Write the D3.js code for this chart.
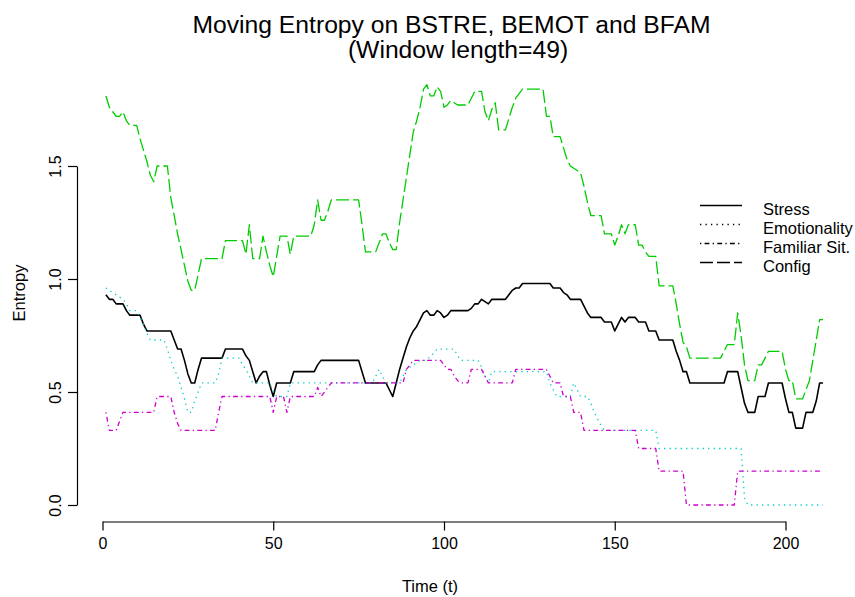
<!DOCTYPE html>
<html>
<head>
<meta charset="utf-8">
<script src="https://cdn.jsdelivr.net/npm/d3@7"></script>
<style>
  body { margin: 0; background: #fff; }
  svg text { font-family: "Liberation Sans", Arial, sans-serif; fill: #000; }
</style>
</head>
<body>
<div id="chart"></div>
<script>
const WIDTH = 855, HEIGHT = 597;

// time index 1..211
const time = d3.range(1, 212);

const stress = [
  0.93, 0.91, 0.91, 0.89, 0.89, 0.89, 0.86, 0.84, 0.84, 0.84,
  0.84, 0.80, 0.77, 0.77, 0.77, 0.77, 0.77, 0.77, 0.77, 0.77,
  0.73, 0.69, 0.69, 0.64, 0.58, 0.54, 0.54, 0.60, 0.65, 0.65,
  0.65, 0.65, 0.65, 0.65, 0.65, 0.69, 0.69, 0.69, 0.69, 0.69,
  0.69, 0.66, 0.64, 0.59, 0.54, 0.57, 0.59, 0.59, 0.53, 0.48,
  0.54, 0.54, 0.54, 0.54, 0.54, 0.59, 0.59, 0.59, 0.59, 0.59,
  0.59, 0.59, 0.62, 0.64, 0.64, 0.64, 0.64, 0.64, 0.64, 0.64,
  0.64, 0.64, 0.64, 0.64, 0.64, 0.59, 0.54, 0.54, 0.54, 0.54,
  0.54, 0.54, 0.54, 0.51, 0.48, 0.54, 0.60, 0.65, 0.70, 0.74,
  0.77, 0.79, 0.82, 0.85, 0.86, 0.84, 0.84, 0.86, 0.85, 0.83,
  0.84, 0.86, 0.86, 0.86, 0.86, 0.86, 0.86, 0.87, 0.89, 0.89,
  0.91, 0.90, 0.89, 0.91, 0.91, 0.91, 0.91, 0.91, 0.93, 0.95,
  0.96, 0.96, 0.98, 0.98, 0.98, 0.98, 0.98, 0.98, 0.98, 0.98,
  0.98, 0.96, 0.96, 0.96, 0.94, 0.93, 0.91, 0.91, 0.91, 0.91,
  0.88, 0.85, 0.83, 0.83, 0.83, 0.83, 0.81, 0.81, 0.81, 0.77,
  0.80, 0.83, 0.81, 0.83, 0.83, 0.83, 0.81, 0.81, 0.81, 0.77,
  0.77, 0.77, 0.73, 0.73, 0.73, 0.73, 0.73, 0.68, 0.64, 0.59,
  0.59, 0.54, 0.54, 0.54, 0.54, 0.54, 0.54, 0.54, 0.54, 0.54,
  0.54, 0.54, 0.59, 0.59, 0.59, 0.59, 0.52, 0.45, 0.41, 0.41,
  0.41, 0.48, 0.48, 0.48, 0.54, 0.54, 0.54, 0.54, 0.54, 0.47,
  0.41, 0.41, 0.34, 0.34, 0.34, 0.41, 0.41, 0.41, 0.46, 0.54, 0.54
];

const emotionality = [
  0.96, 0.95, 0.94, 0.93, 0.92, 0.91, 0.89, 0.86, 0.86, 0.86,
  0.83, 0.80, 0.76, 0.73, 0.73, 0.73, 0.73, 0.73, 0.69, 0.64,
  0.60, 0.57, 0.52, 0.47, 0.41, 0.41, 0.46, 0.50, 0.54, 0.54,
  0.54, 0.54, 0.54, 0.58, 0.65, 0.65, 0.65, 0.65, 0.65, 0.65,
  0.62, 0.60, 0.57, 0.54, 0.54, 0.54, 0.54, 0.54, 0.54, 0.50,
  0.48, 0.48, 0.48, 0.48, 0.54, 0.54, 0.54, 0.54, 0.54, 0.54,
  0.54, 0.54, 0.54, 0.54, 0.54, 0.54, 0.54, 0.54, 0.54, 0.54,
  0.54, 0.54, 0.54, 0.54, 0.54, 0.54, 0.54, 0.54, 0.54, 0.57,
  0.60, 0.57, 0.54, 0.54, 0.54, 0.54, 0.54, 0.57, 0.60, 0.61,
  0.62, 0.63, 0.64, 0.64, 0.64, 0.66, 0.67, 0.69, 0.69, 0.69,
  0.69, 0.69, 0.69, 0.66, 0.64, 0.64, 0.64, 0.64, 0.64, 0.64,
  0.61, 0.57, 0.54, 0.59, 0.59, 0.59, 0.59, 0.59, 0.59, 0.59,
  0.59, 0.59, 0.59, 0.59, 0.59, 0.59, 0.59, 0.59, 0.59, 0.59,
  0.54, 0.51, 0.48, 0.48, 0.48, 0.48, 0.48, 0.54, 0.51, 0.48,
  0.48, 0.48, 0.45, 0.41, 0.38, 0.35, 0.33, 0.33, 0.33, 0.33,
  0.33, 0.33, 0.33, 0.33, 0.33, 0.33, 0.33, 0.33, 0.33, 0.33,
  0.33, 0.33, 0.25, 0.25, 0.25, 0.25, 0.25, 0.25, 0.25, 0.25,
  0.25, 0.25, 0.25, 0.25, 0.25, 0.25, 0.25, 0.25, 0.25, 0.25,
  0.25, 0.25, 0.25, 0.25, 0.25, 0.25, 0.25, 0.03, 0.00, 0.00,
  0.00, 0.00, 0.00, 0.00, 0.00, 0.00, 0.00, 0.00, 0.00, 0.00,
  0.00, 0.00, 0.00, 0.00, 0.00, 0.00, 0.00, 0.00, 0.00, 0.00, 0.00
];

const familiar = [
  0.41, 0.33, 0.33, 0.33, 0.37, 0.41, 0.41, 0.41, 0.41, 0.41,
  0.41, 0.41, 0.41, 0.41, 0.41, 0.48, 0.48, 0.48, 0.48, 0.48,
  0.41, 0.36, 0.33, 0.33, 0.33, 0.33, 0.33, 0.33, 0.33, 0.33,
  0.33, 0.33, 0.33, 0.41, 0.48, 0.48, 0.48, 0.48, 0.48, 0.48,
  0.48, 0.48, 0.48, 0.48, 0.48, 0.48, 0.48, 0.48, 0.48, 0.41,
  0.48, 0.48, 0.48, 0.41, 0.48, 0.48, 0.48, 0.48, 0.48, 0.48,
  0.48, 0.48, 0.52, 0.48, 0.50, 0.52, 0.54, 0.54, 0.54, 0.54,
  0.54, 0.54, 0.54, 0.54, 0.54, 0.54, 0.54, 0.54, 0.54, 0.54,
  0.54, 0.54, 0.54, 0.54, 0.54, 0.54, 0.54, 0.54, 0.60, 0.62,
  0.64, 0.64, 0.64, 0.64, 0.64, 0.64, 0.64, 0.64, 0.64, 0.62,
  0.60, 0.60, 0.57, 0.55, 0.54, 0.54, 0.54, 0.60, 0.60, 0.60,
  0.60, 0.57, 0.54, 0.54, 0.54, 0.54, 0.54, 0.54, 0.54, 0.54,
  0.60, 0.60, 0.60, 0.60, 0.60, 0.60, 0.60, 0.60, 0.60, 0.60,
  0.57, 0.54, 0.54, 0.54, 0.48, 0.48, 0.48, 0.41, 0.41, 0.41,
  0.33, 0.33, 0.33, 0.33, 0.33, 0.33, 0.33, 0.33, 0.33, 0.33,
  0.33, 0.33, 0.33, 0.33, 0.33, 0.33, 0.25, 0.25, 0.25, 0.25,
  0.25, 0.25, 0.15, 0.15, 0.15, 0.15, 0.15, 0.15, 0.15, 0.15,
  0.00, 0.00, 0.00, 0.00, 0.00, 0.00, 0.00, 0.00, 0.00, 0.00,
  0.00, 0.00, 0.00, 0.00, 0.00, 0.15, 0.15, 0.15, 0.15, 0.15,
  0.15, 0.15, 0.15, 0.15, 0.15, 0.15, 0.15, 0.15, 0.15, 0.15,
  0.15, 0.15, 0.15, 0.15, 0.15, 0.15, 0.15, 0.15, 0.15, 0.15, 0.15
];

const config = [
  1.81, 1.76, 1.74, 1.72, 1.72, 1.74, 1.70, 1.68, 1.68, 1.68,
  1.62, 1.57, 1.52, 1.46, 1.43, 1.50, 1.50, 1.50, 1.50, 1.36,
  1.28, 1.20, 1.13, 1.06, 0.99, 0.95, 0.95, 1.02, 1.09, 1.09,
  1.09, 1.09, 1.09, 1.09, 1.09, 1.17, 1.17, 1.17, 1.17, 1.17,
  1.17, 1.11, 1.24, 1.09, 1.09, 1.09, 1.19, 1.12, 1.06, 1.01,
  1.10, 1.19, 1.19, 1.19, 1.11, 1.19, 1.19, 1.19, 1.19, 1.19,
  1.19, 1.24, 1.35, 1.26, 1.26, 1.30, 1.35, 1.35, 1.35, 1.35,
  1.35, 1.35, 1.35, 1.35, 1.35, 1.24, 1.12, 1.12, 1.12, 1.12,
  1.16, 1.20, 1.20, 1.16, 1.13, 1.13, 1.25, 1.35, 1.45, 1.55,
  1.65, 1.70, 1.76, 1.84, 1.86, 1.81, 1.81, 1.85, 1.83, 1.76,
  1.77, 1.79, 1.78, 1.77, 1.77, 1.77, 1.77, 1.80, 1.83, 1.83,
  1.83, 1.74, 1.70, 1.75, 1.78, 1.66, 1.66, 1.66, 1.71, 1.76,
  1.80, 1.82, 1.84, 1.84, 1.84, 1.84, 1.84, 1.84, 1.84, 1.72,
  1.72, 1.63, 1.63, 1.63, 1.58, 1.53, 1.50, 1.49, 1.48, 1.47,
  1.41, 1.34, 1.28, 1.28, 1.28, 1.28, 1.20, 1.20, 1.20, 1.15,
  1.19, 1.24, 1.20, 1.24, 1.24, 1.24, 1.15, 1.15, 1.12, 1.10,
  1.10, 1.10, 0.97, 0.97, 0.97, 0.97, 0.97, 0.89, 0.80, 0.72,
  0.70, 0.65, 0.65, 0.65, 0.65, 0.65, 0.65, 0.65, 0.65, 0.65,
  0.65, 0.68, 0.71, 0.71, 0.71, 0.85, 0.75, 0.62, 0.55, 0.55,
  0.55, 0.62, 0.62, 0.65, 0.68, 0.68, 0.68, 0.68, 0.68, 0.60,
  0.55, 0.55, 0.47, 0.47, 0.47, 0.51, 0.55, 0.64, 0.73, 0.82, 0.82
];

const seriesNames = ["Stress", "Emotionality", "Familiar Sit.", "Config"];
const xTicks = [0, 50, 100, 150, 200];
const yTicks = [0, 0.5, 1.0, 1.5];

const series = [
  { name: seriesNames[0], values: stress,       color: "#000000", dash: null,                 width: 1.6 },
  { name: seriesNames[1], values: emotionality, color: "#00CDCD", dash: "1.3,4.2",            width: 1.3 },
  { name: seriesNames[2], values: familiar,     color: "#CD00CD", dash: "1.3,3.3,4.8,3.3",    width: 1.3 },
  { name: seriesNames[3], values: config,       color: "#00CD00", dash: "13,4",               width: 1.3 }
];

const svg = d3.select("#chart")
  .append("svg")
  .attr("width", WIDTH)
  .attr("height", HEIGHT);

const x = d3.scaleLinear().domain([0, 200]).range([102.5, 785.5]);
const y = d3.scaleLinear().domain([0, 1.5]).range([505, 166]);

// Lines
const line = d3.line()
  .x((d, i) => x(time[i]))
  .y(d => y(d));

svg.selectAll("path.series")
  .data(series)
  .join("path")
  .attr("class", "series")
  .attr("d", d => line(d.values))
  .attr("fill", "none")
  .attr("stroke", d => d.color)
  .attr("stroke-width", d => d.width)
  .attr("stroke-dasharray", d => d.dash)
  .attr("stroke-linejoin", "round");

// X axis
const xAxis = svg.append("g")
  .attr("transform", "translate(0,521.5)")
  .call(d3.axisBottom(x).tickValues(xTicks).tickFormat(d3.format("d")).tickSize(9).tickSizeOuter(0));
xAxis.select(".domain").attr("stroke", "#000").attr("stroke-width", 1.2);
xAxis.selectAll(".tick line").attr("stroke", "#000").attr("stroke-width", 1.2);
xAxis.selectAll(".tick text")
  .attr("y", 27)
  .attr("dy", 0)
  .style("font-size", "16px")
  .style("font-family", "'Liberation Sans', Arial, sans-serif")
  .attr("fill", "#000");

// Y axis
const yAxis = svg.append("g")
  .attr("transform", "translate(77,0)")
  .call(d3.axisLeft(y).tickValues(yTicks).tickFormat(d3.format(".1f")).tickSize(9).tickSizeOuter(0));
yAxis.select(".domain").attr("stroke", "#000").attr("stroke-width", 1.2);
yAxis.selectAll(".tick line").attr("stroke", "#000").attr("stroke-width", 1.2);
yAxis.selectAll(".tick text")
  .attr("x", null)
  .attr("dy", null)
  .attr("text-anchor", "middle")
  .attr("transform", "translate(-16,0) rotate(-90)")
  .style("font-size", "16px")
  .style("font-family", "'Liberation Sans', Arial, sans-serif")
  .attr("fill", "#000");

// Axis titles
svg.append("text")
  .attr("x", 430)
  .attr("y", 592)
  .attr("text-anchor", "middle")
  .style("font-size", "16.5px")
  .text("Time (t)");

svg.append("text")
  .attr("transform", "translate(24.5,293) rotate(-90)")
  .attr("text-anchor", "middle")
  .style("font-size", "16.5px")
  .text("Entropy");

// Title
svg.append("text")
  .attr("x", 451.5)
  .attr("y", 33)
  .attr("text-anchor", "middle")
  .style("font-size", "24.7px")
  .text("Moving Entropy on BSTRE, BEMOT and BFAM");

svg.append("text")
  .attr("x", 458)
  .attr("y", 58)
  .attr("text-anchor", "middle")
  .style("font-size", "24.7px")
  .text("(Window length=49)");

// Legend
const legend = svg.append("g").attr("class", "legend");
const legendRow = d3.scaleLinear().domain([0, 3]).range([205.5, 262.5]);

legend.selectAll("line")
  .data(series)
  .join("line")
  .attr("x1", 700)
  .attr("x2", 742)
  .attr("y1", (d, i) => legendRow(i))
  .attr("y2", (d, i) => legendRow(i))
  .attr("stroke", "#000")
  .attr("stroke-width", d => d.width)
  .attr("stroke-dasharray", d => d.dash);

legend.selectAll("text")
  .data(series)
  .join("text")
  .attr("x", 763)
  .attr("y", (d, i) => legendRow(i) + 9.4)
  .style("font-size", "16.5px")
  .text(d => d.name);
</script>
</body>
</html>
